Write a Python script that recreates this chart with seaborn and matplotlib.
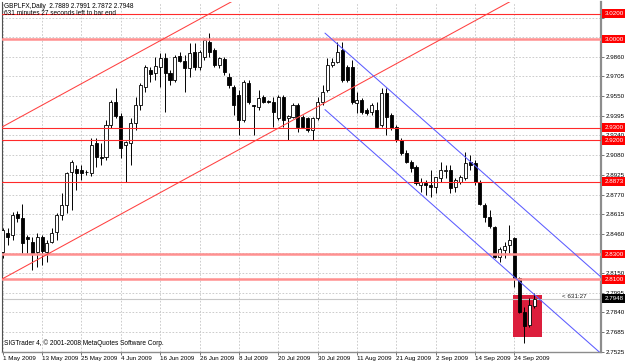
import matplotlib
matplotlib.use("Agg")
import matplotlib.pyplot as plt
from matplotlib.patches import Rectangle
from matplotlib.transforms import blended_transform_factory
import seaborn as sns
import pandas as pd
import numpy as np

# ---------------- data ----------------
title_line1 = "GBPLFX,Daily  2.7889 2.7991 2.7872 2.7948"
title_line2 = "631 minutes 27 seconds left to bar end"
copyright_text = "SIGTrader 4, \u00a9 2001-2008 MetaQuotes Software Corp."
timer_label = "< 631:27"

first_day = "2009-05-01"
last_day = "2009-09-30"

opens = [2.8316, 2.8466, 2.8450, 2.8616, 2.8585, 2.8434, 2.8395, 2.8316, 2.8434, 2.8316,
         2.8395, 2.8474, 2.8608, 2.8687, 2.8948, 2.8972, 2.8964, 2.8948, 2.8941, 2.9178,
         2.9067, 2.9067, 2.9320, 2.9502, 2.9391, 2.9162, 2.9178, 2.9336, 2.9478, 2.9621,
         2.9755, 2.9732, 2.9779, 2.9850, 2.9732, 2.9676, 2.9866, 2.9826, 2.9771, 2.9898,
         2.9779, 2.9858, 2.9977, 2.9913, 2.9795, 2.9842, 2.9700, 2.9621, 2.9558, 2.9360,
         2.9652, 2.9478, 2.9463, 2.9542, 2.9510, 2.9502, 2.9376, 2.9542, 2.9376, 2.9384,
         2.9478, 2.9384, 2.9376, 2.9281, 2.9376, 2.9502, 2.9597, 2.9795, 2.9819, 2.9913,
         2.9779, 2.9779, 2.9494, 2.9518, 2.9439, 2.9423, 2.9439, 2.9320, 2.9573, 2.9399,
         2.9304, 2.9202, 2.9099, 2.9028, 2.8988, 2.8846, 2.8861, 2.8846, 2.8830, 2.8901,
         2.8956, 2.8964, 2.8830, 2.8869, 2.8901, 2.9028, 2.9020, 2.8869, 2.8687, 2.8593,
         2.8513, 2.8276, 2.8331, 2.8371, 2.8426, 2.8110, 2.7841, 2.7738, 2.7889]
highs = [2.8506, 2.8506, 2.8632, 2.8640, 2.8695, 2.8450, 2.8434, 2.8466, 2.8450, 2.8411,
         2.8506, 2.8624, 2.8782, 2.8948, 2.9043, 2.9004, 2.9004, 2.8964, 2.9217, 2.9217,
         2.9178, 2.9360, 2.9518, 2.9613, 2.9415, 2.9194, 2.9376, 2.9542, 2.9652, 2.9795,
         2.9779, 2.9858, 2.9890, 2.9890, 2.9755, 2.9874, 2.9898, 2.9874, 2.9969, 2.9969,
         2.9913, 3.0008, 3.0048, 2.9929, 2.9858, 2.9858, 2.9732, 2.9637, 2.9597, 2.9676,
         2.9676, 2.9478, 2.9597, 2.9558, 2.9518, 2.9542, 2.9558, 2.9558, 2.9399, 2.9494,
         2.9494, 2.9399, 2.9384, 2.9384, 2.9542, 2.9637, 2.9850, 2.9850, 2.9977, 2.9977,
         2.9795, 2.9834, 2.9581, 2.9534, 2.9455, 2.9494, 2.9502, 2.9613, 2.9613, 2.9415,
         2.9320, 2.9217, 2.9122, 2.9043, 2.9004, 2.8901, 2.8885, 2.8964, 2.8909, 2.9028,
         2.9004, 2.9004, 2.8901, 2.8925, 2.9107, 2.9083, 2.9043, 2.8885, 2.8703, 2.8648,
         2.8521, 2.8355, 2.8395, 2.8529, 2.8434, 2.8118, 2.7881, 2.7952, 2.7991]
lows = [2.8268, 2.8371, 2.8411, 2.8553, 2.8308, 2.8308, 2.8173, 2.8197, 2.8213, 2.8237,
        2.8387, 2.8411, 2.8569, 2.8624, 2.8648, 2.8806, 2.8885, 2.8925, 2.8917, 2.8988,
        2.9004, 2.9043, 2.9297, 2.9376, 2.9059, 2.8869, 2.9004, 2.9281, 2.9439, 2.9581,
        2.9660, 2.9676, 2.9621, 2.9423, 2.9637, 2.9660, 2.9819, 2.9581, 2.9700, 2.9755,
        2.9755, 2.9834, 2.9858, 2.9779, 2.9771, 2.9716, 2.9613, 2.9399, 2.9241, 2.9344,
        2.9486, 2.9241, 2.9439, 2.9494, 2.9494, 2.9304, 2.9360, 2.9304, 2.9202, 2.9376,
        2.9265, 2.9297, 2.9265, 2.9202, 2.9360, 2.9478, 2.9581, 2.9779, 2.9811, 2.9660,
        2.9660, 2.9486, 2.9415, 2.9407, 2.9399, 2.9399, 2.9297, 2.9304, 2.9241, 2.9281,
        2.9186, 2.9083, 2.9020, 2.8948, 2.8846, 2.8790, 2.8767, 2.8751, 2.8782, 2.8869,
        2.8901, 2.8782, 2.8790, 2.8854, 2.8885, 2.8964, 2.8846, 2.8687, 2.8553, 2.8506,
        2.8268, 2.8237, 2.8268, 2.8308, 2.8039, 2.7833, 2.7596, 2.7722, 2.7872]
closes = [2.8490, 2.8434, 2.8608, 2.8585, 2.8387, 2.8419, 2.8308, 2.8434, 2.8324, 2.8387,
          2.8466, 2.8608, 2.8687, 2.8941, 2.9028, 2.8941, 2.8941, 2.8945, 2.9162, 2.9067,
          2.9059, 2.9320, 2.9502, 2.9391, 2.9138, 2.9186, 2.9336, 2.9478, 2.9637, 2.9779,
          2.9724, 2.9787, 2.9850, 2.9732, 2.9676, 2.9858, 2.9826, 2.9771, 2.9890, 2.9779,
          2.9898, 2.9993, 2.9898, 2.9795, 2.9850, 2.9739, 2.9637, 2.9478, 2.9360, 2.9660,
          2.9502, 2.9471, 2.9534, 2.9502, 2.9502, 2.9423, 2.9542, 2.9360, 2.9391, 2.9478,
          2.9304, 2.9304, 2.9281, 2.9376, 2.9502, 2.9581, 2.9795, 2.9819, 2.9898, 2.9676,
          2.9676, 2.9502, 2.9518, 2.9423, 2.9415, 2.9478, 2.9304, 2.9573, 2.9384, 2.9297,
          2.9202, 2.9099, 2.9028, 2.8980, 2.8861, 2.8869, 2.8846, 2.8830, 2.8909, 2.8964,
          2.8964, 2.8822, 2.8885, 2.8909, 2.9020, 2.9004, 2.8869, 2.8695, 2.8593, 2.8521,
          2.8276, 2.8339, 2.8363, 2.8411, 2.8110, 2.7841, 2.7730, 2.7896, 2.7948]

date_label_step = 8
price_ticks = [2.7525, 2.7685, 2.7840, 2.7995, 2.8150, 2.8305, 2.8460, 2.8615, 2.8770,
               2.8925, 2.9080, 2.9240, 2.9395, 2.9550, 2.9705, 2.9860, 3.0015, 3.0170]
hidden_price_ticks = [2.8305, 3.0015, 3.0170]

level_prices = [3.0200, 3.0000, 2.9300, 2.9200, 2.8873, 2.8300, 2.8100]
level_thick = [False, True, False, False, False, True, True]
bid_price = 2.7948

red_trend_a_bars = [-0.14, 60.0]
red_trend_a_prices = [2.9304, 3.0582]
red_trend_b_bars = [-0.14, 120.0]
red_trend_b_prices = [2.8102, 3.0655]
blue_chan_a_bars = [65.5, 125.0]
blue_chan_a_prices = [3.0047, 2.8001]
blue_chan_b_bars = [65.5, 125.0]
blue_chan_b_prices = [2.9442, 2.7396]

box_bars = [103.7, 109.6]
box_prices = [2.7643, 2.7976]

# ---------------- figure ----------------
sns.set_theme(style="white")
plt.rcParams['font.family'] = ['Liberation Sans', 'DejaVu Sans']

W, H = 625, 363
fig = plt.figure(figsize=(W / 100, H / 100), dpi=100)
fig.patch.set_facecolor('white')
ax = fig.add_axes([2 / W, 11 / H, 599 / W, 350 / H])
ax.set_facecolor('white')

dates = pd.bdate_range(first_day, last_day)
df = pd.DataFrame({"date": dates, "open": opens, "high": highs,
                   "low": lows, "close": closes})
df["x"] = np.arange(len(df))
df["up"] = df["close"] >= df["open"]

FS = 4.5

# red rectangle (background object)
ax.add_patch(Rectangle((box_bars[0], box_prices[0]), box_bars[1] - box_bars[0],
                       box_prices[1] - box_prices[0], facecolor='#dc1e3c',
                       edgecolor='none', zorder=1))

# bid line
ax.axhline(bid_price, color='#c8c8c8', lw=0.8, zorder=1.5)

# candles
ax.vlines(df["x"], df["low"], df["high"], color='black', lw=0.7, zorder=3)
body_low = np.minimum(df["open"], df["close"])
body_h = np.maximum((df["close"] - df["open"]).abs(), 0.0003)
ax.bar(df["x"], body_h, bottom=body_low, width=0.62,
       color=np.where(df["up"], 'white', 'black'),
       edgecolor='black', linewidth=0.6, zorder=4)

# horizontal levels
for lvl, thick in zip(level_prices, level_thick):
    if thick:
        ax.axhline(lvl, color='#ff9090', lw=1.8, zorder=5)
    else:
        ax.axhline(lvl, color='#ff2a2a', lw=0.8, zorder=5)

# trend lines / channels
for bx, py, col in [(red_trend_a_bars, red_trend_a_prices, '#ff4040'),
                    (red_trend_b_bars, red_trend_b_prices, '#ff4040'),
                    (blue_chan_a_bars, blue_chan_a_prices, '#5c5cff'),
                    (blue_chan_b_bars, blue_chan_b_prices, '#5c5cff')]:
    seg = pd.DataFrame({"bar": bx, "price": py})
    sns.lineplot(data=seg, x="bar", y="price", color=col, lw=0.75, ax=ax,
                 zorder=5, legend=False)

# axes limits
ax.set_xlim(-0.14, 121.6)
ax.set_ylim(2.7525, 3.0293)
ax.set_xlabel("")
ax.set_ylabel("")

# y ticks on right
ax.yaxis.tick_right()
ax.set_yticks(price_ticks)
ax.set_yticklabels(["" if t in hidden_price_ticks else f"{t:.4f}" for t in price_ticks])
ax.tick_params(axis='y', which='both', direction='out', length=2.2, width=0.6,
               color='#606060', labelsize=FS, pad=0.8, labelcolor='black', right=True, left=False)

# x ticks
tick_pos = df["x"].values[::date_label_step]
tick_lab = [f"{d.day} {d.strftime('%b %Y')}" for d in df["date"].iloc[::date_label_step]]
ax.set_xticks(tick_pos)
ax.set_xticklabels(tick_lab)
for lab in ax.get_xticklabels():
    lab.set_ha('left')
ax.tick_params(axis='x', which='both', direction='out', length=2.0, width=0.6,
               color='#606060', labelsize=FS, pad=0.8, labelcolor='black', bottom=True)

# grid
ax.grid(True, color='#c4c4c4', linestyle=(0, (2, 2)), linewidth=0.6)
ax.set_axisbelow(True)

# spines
ax.spines['top'].set_visible(False)
ax.spines['left'].set_color('#505050')
ax.spines['left'].set_linewidth(0.8)
ax.spines['right'].set_color('#8c8c8c')
ax.spines['right'].set_linewidth(1.6)
ax.spines['bottom'].set_color('#8c8c8c')
ax.spines['bottom'].set_linewidth(1.0)

# right-side price boxes
trans = blended_transform_factory(ax.transAxes, ax.transData)
for lvl in level_prices:
    ax.text(1.0055, lvl, f"{lvl:.4f}", transform=trans, ha='left', va='center',
            fontsize=FS, color='white', clip_on=False, zorder=10,
            bbox=dict(boxstyle='square,pad=0.3', fc='#ff0000', ec='none'))
ax.text(1.0055, bid_price, f"{bid_price:.4f}", transform=trans, ha='left', va='center',
        fontsize=FS, color='white', clip_on=False, zorder=10,
        bbox=dict(boxstyle='square,pad=0.3', fc='black', ec='none'))

# timer label
ax.text(113.7, bid_price + 0.0018, timer_label, ha='left', va='center',
        fontsize=FS, color='#202020', zorder=6)

# header texts
fig.text(4 / W, 1 - 6 / H, title_line1, ha='left', va='center', fontsize=FS + 0.2, color='black')
fig.text(4 / W, 1 - 13.5 / H, title_line2, ha='left', va='center', fontsize=FS + 0.2, color='black')
fig.text(4 / W, 1 - 343 / H, copyright_text, ha='left', va='center', fontsize=FS + 0.2, color='black')

fig.savefig("out.png", dpi=100, facecolor='white')
